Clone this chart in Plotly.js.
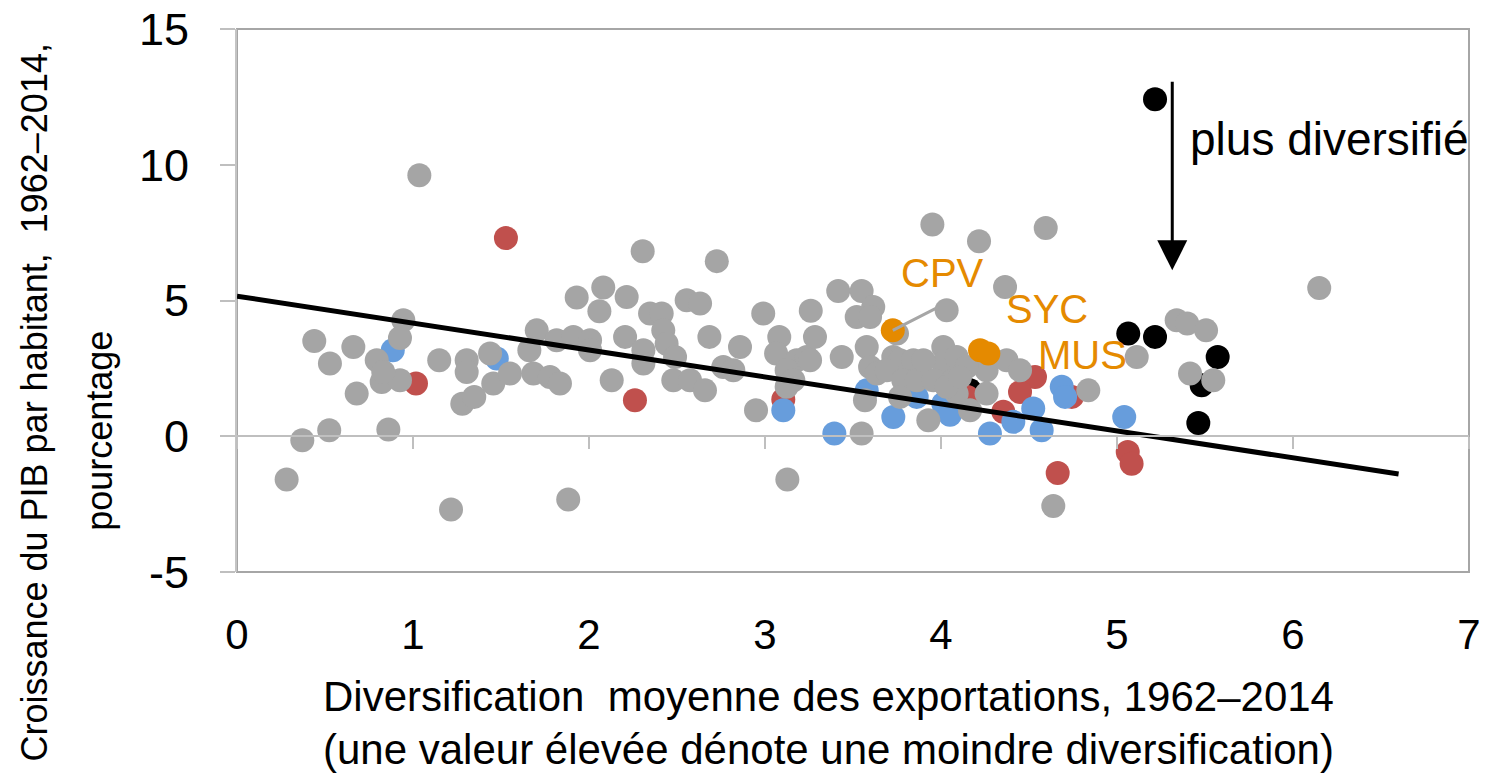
<!DOCTYPE html>
<html>
<head>
<meta charset="utf-8">
<script src="https://cdn.plot.ly/plotly-3.0.1.min.js"></script>
<style>html,body{margin:0;padding:0;background:#fff;}#chart{width:1492px;height:774px;}</style>
</head>
<body>
<div id="chart"></div>
<script>
// ---- data ----
var grayX = [1.036,0.439,0.528,0.661,0.680,0.371,0.524,0.282,0.860,0.945,0.926,0.794,0.822,0.926,0.831,1.149,1.216,1.882,1.305,1.305,1.280,1.348,1.438,1.456,1.551,1.661,1.703,1.684,1.778,1.835,1.816,1.911,2.006,2.006,1.930,2.081,2.059,2.214,2.129,2.205,
  2.305,2.726,2.347,2.413,2.555,2.631,2.422,2.309,2.441,2.489,2.309,2.479,2.574,2.659,2.684,2.763,2.820,2.858,2.990,3.081,3.063,3.180,3.237,3.123,3.161,3.123,2.949,3.127,3.260,3.284,3.256,3.549,3.416,3.549,3.615,3.521,3.597,3.436,3.578,3.597,3.635,3.568,4.032,3.951,4.216,3.729,3.767,3.843,3.692,3.786,3.862,3.767,3.928,4.013,4.013,4.089,3.956,4.070,4.089,4.165,4.259,4.259,4.364,3.750,
  4.595,4.146,3.900,4.032,4.108,4.373,4.449,4.837,4.638,5.112,5.339,6.149,5.399,5.506,5.415,5.547];
var grayY = [9.61,3.51,2.68,3.29,1.57,-0.15,0.22,-1.59,0.25,4.27,3.62,2.80,2.00,2.06,2.37,2.80,-2.70,-2.33,2.80,2.37,1.20,1.45,3.05,1.94,2.31,3.17,3.90,2.31,2.18,1.94,3.54,3.66,3.54,3.17,5.11,5.48,4.60,5.13,2.06,3.66,
  6.81,6.45,4.52,4.52,5.01,4.89,3.90,3.17,3.41,2.92,2.68,2.06,2.06,1.69,3.66,2.55,2.43,3.29,4.52,3.66,3.05,2.80,2.92,2.43,2.06,1.82,0.96,-1.59,4.62,3.66,2.80,0.10,5.35,5.35,4.76,4.39,4.39,2.92,3.29,2.55,2.31,1.33,4.64,7.80,7.18,2.92,2.80,2.80,2.43,2.06,2.06,1.45,0.59,3.29,2.68,2.92,2.06,2.06,1.57,0.96,2.43,1.57,5.50,3.78,
  7.67,2.55,2.80,1.82,2.18,2.80,2.43,1.69,-2.57,2.92,4.27,5.46,4.15,3.90,2.31,2.06];

var blueX = [0.885,1.476,3.104,3.394,3.578,3.729,3.862,4.013,4.051,4.278,4.411,4.524,4.572,4.686,4.705,5.041,4.270];
var blueY = [3.17,2.86,0.96,0.10,1.69,0.71,1.45,1.20,0.79,0.10,0.53,1.02,0.22,1.82,1.45,0.71,2.75];

var redX = [1.528,1.017,2.261,3.104,4.534,4.449,4.354,4.743,4.663,5.061,5.083,4.150];
var redY = [7.30,1.94,1.33,1.35,2.18,1.63,0.90,1.45,-1.35,-0.58,-1.01,1.45];

var blackX = [5.216,5.064,5.216,5.572,5.481,5.462,4.165];
var blackY = [12.41,3.78,3.66,2.92,1.88,0.49,1.69];

var orangeX = [3.726,4.222,4.269];
var orangeY = [3.90,3.17,3.05];
var orangeLabels = ['CPV','SYC','MUS'];

var trendX = [0, 6.6];
var trendY = [5.16, -1.39];

var xTickVals = [0,1,2,3,4,5,6,7];
var xTickText = ['0','1','2','3','4','5','6','7'];
var yTickVals = [-5,0,5,10,15];
var yTickText = ['-5','0','5','10','15'];

var xTitle1 = 'Diversification\u00a0 moyenne des exportations, 1962\u20132014';
var xTitle2 = '(une valeur élevée dénote une moindre diversification)';
var yTitle1 = 'Croissance du PIB par habitant,\u00a0 1962\u20132014,';
var yTitle2 = 'pourcentage';
var arrowText = 'plus diversifié';

// ---- styling / layout ----
var COL = {gray:'#A5A5A5', blue:'#679DDC', red:'#C0504D', black:'#000000', orange:'#E58A00'};
var MS = 24;
var FONT = 'Liberation Sans, Arial, sans-serif';

function pts(x, y, c){
  return {type:'scatter', mode:'markers', x:x, y:y, hoverinfo:'skip',
    marker:{color:c, size:MS, line:{width:0}}, showlegend:false, cliponaxis:false};
}

var traces = [
  pts(blackX, blackY, COL.black),
  pts(redX, redY, COL.red),
  pts(blueX, blueY, COL.blue),
  pts(grayX, grayY, COL.gray),
  pts(orangeX, orangeY, COL.orange),
  {type:'scatter', mode:'lines', x:trendX, y:trendY, line:{color:'#000', width:5}, hoverinfo:'skip', showlegend:false}
];

// label placements (layout, not data)
var labelPos = [[4.006,6.02],[4.605,4.68],[4.804,2.98]];

var annotations = [];
orangeLabels.forEach(function(t,i){
  annotations.push({x:labelPos[i][0], y:labelPos[i][1], xref:'x', yref:'y', text:t, showarrow:false,
    font:{family:FONT, size:40, color:COL.orange}, xanchor:'center', yanchor:'middle'});
});
// CPV leader line
annotations.push({x:orangeX[0], y:orangeY[0], xref:'x', yref:'y', text:'', showarrow:true,
  ax:47, ay:-24, arrowhead:0, arrowwidth:3, arrowcolor:'#A6A6A6', standoff:0});
// big arrow
annotations.push({x:5.314, y:6.11, xref:'x', yref:'y', axref:'x', ayref:'y', ax:5.314, ay:13.11,
  text:'', showarrow:true, arrowhead:2, arrowsize:2, arrowwidth:3, arrowcolor:'#000', standoff:0});
annotations.push({x:5.403, y:10.94, xref:'x', yref:'y', text:arrowText, showarrow:false,
  xanchor:'left', yanchor:'middle', font:{family:FONT, size:46, color:'#000'}});
// axis titles
annotations.push({x:0.4805, y:-0.2302, xref:'paper', yref:'paper', text:xTitle1, showarrow:false,
  xanchor:'center', yanchor:'middle', font:{family:FONT, size:42, color:'#000'}});
annotations.push({x:0.4805, y:-0.3278, xref:'paper', yref:'paper', text:xTitle2, showarrow:false,
  xanchor:'center', yanchor:'middle', font:{family:FONT, size:42, color:'#000'}});
annotations.push({x:-0.1640, y:0.3138, xref:'paper', yref:'paper', text:yTitle1, showarrow:false, textangle:-90,
  xanchor:'center', yanchor:'middle', font:{family:FONT, size:36, color:'#000'}});
annotations.push({x:-0.1112, y:0.260, xref:'paper', yref:'paper', text:yTitle2, showarrow:false, textangle:-90,
  xanchor:'center', yanchor:'middle', font:{family:FONT, size:36, color:'#000'}});

var layout = {
  width:1492, height:774,
  margin:{l:237, r:23, t:29, b:202, pad:0},
  paper_bgcolor:'#fff', plot_bgcolor:'#fff',
  showlegend:false, hovermode:false,
  xaxis:{range:[0,7], tickvals:xTickVals, ticktext:xTickText, ticks:'', showgrid:false, zeroline:false,
    showline:false, tickfont:{family:FONT, size:42, color:'#000'}, ticklabelstandoff:34, fixedrange:true},
  xaxis2:{range:[0,7], overlaying:'x', anchor:'free', position:0.25, side:'bottom', tickvals:xTickVals,
    ticks:'outside', ticklen:12, tickwidth:2, tickcolor:'#BFBFBF', showticklabels:false,
    showline:true, linecolor:'#BFBFBF', linewidth:2, showgrid:false, zeroline:false},
  yaxis:{range:[-5,15], tickvals:yTickVals, ticktext:yTickText, ticks:'outside', ticklen:15, tickwidth:2,
    tickcolor:'#BFBFBF', showline:true, linecolor:'#C4C4C4', linewidth:2, showgrid:false, zeroline:false,
    tickfont:{family:FONT, size:45, color:'#000'}, ticklabelstandoff:22, fixedrange:true},
  shapes:[{type:'rect', xref:'paper', yref:'paper', x0:0, x1:1, y0:0, y1:1, line:{color:'#A6A6A6', width:2}, layer:'below'}],
  annotations:annotations
};

// invisible helper so the overlaid zero-line axis is drawn
traces.push({type:'scatter', mode:'markers', x:[null], y:[null], xaxis:'x2', yaxis:'y', showlegend:false, hoverinfo:'skip'});

Plotly.newPlot('chart', traces, layout, {displayModeBar:false, staticPlot:true});
</script>
</body>
</html>
